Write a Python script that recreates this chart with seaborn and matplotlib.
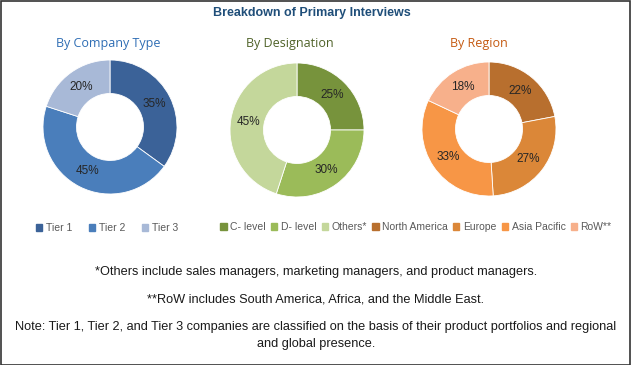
import matplotlib
matplotlib.use("Agg")
import matplotlib.pyplot as plt
from matplotlib.patches import Patch, Rectangle
import seaborn as sns

# data
company_labels = ["Tier 1", "Tier 2", "Tier 3"]
company_share = [35, 45, 20]
designation_labels = ["C- level", "D- level", "Others*"]
designation_share = [25, 30, 45]
region_labels = ["North America", "Europe", "Asia Pacific", "RoW**"]
region_share = [22, 27, 33, 18]

company_colors = ["#3B6298", "#4A7EBB", "#A8B9D7"]
designation_colors = ["#77933C", "#9BBB59", "#C4D79B"]
region_colors = ["#B86F2E", "#DB8738", "#F79646", "#F7B08B"]

sns.set_theme(style="white")
plt.rcParams["font.family"] = ["Liberation Sans", "DejaVu Sans"]

W, H = 631, 365
fig = plt.figure(figsize=(W / 100, H / 100), dpi=100)
fig.patch.set_facecolor("white")


def donut(cx, cy, r, values, colors, title, title_x, title_color):
    ax = fig.add_axes([(cx - r) / W, 1 - (cy + r) / H, 2 * r / W, 2 * r / H])
    ax.pie(values, colors=colors, startangle=90, counterclock=False,
           autopct="%d%%", pctdistance=0.74,
           wedgeprops=dict(width=0.5, edgecolor="white", linewidth=0.6),
           textprops=dict(fontsize=8.5, color="#262626"))
    ax.set_xlim(-1, 1)
    ax.set_ylim(-1, 1)
    ax.set_aspect("auto")
    fig.text(title_x / W, 1 - 44 / H, title, ha="center", va="center",
             fontsize=9, color=title_color, family=["Open Sans", "DejaVu Sans"])
    return ax


donut(110, 127, 67, company_share, company_colors, "By Company Type", 108, "#2E6DB4")
donut(297, 130, 67, designation_share, designation_colors, "By Designation", 290, "#4F6228")
donut(489, 129, 67, region_share, region_colors, "By Region", 479, "#C55A11")

fig.text(312 / W, 1 - 13 / H, "Breakdown of Primary Interviews", ha="center",
         va="center", fontsize=9, fontweight="bold", color="#1F4E79")

leg_kw = dict(loc="center", frameon=False, handlelength=0.6, handleheight=0.6,
              handletextpad=0.35, fontsize=7.5, labelcolor="#595959")
fig.legend([Patch(color=c) for c in company_colors], company_labels, ncol=3,
           columnspacing=1.6, bbox_to_anchor=(107 / W, 1 - 228 / H), **leg_kw)
fig.legend([Patch(color=c) for c in designation_colors + region_colors],
           designation_labels + region_labels, ncol=7, columnspacing=0.5,
           bbox_to_anchor=(416 / W, 1 - 227 / H), **leg_kw)

notes = [
    (272, "*Others include sales managers, marketing managers, and product managers."),
    (299, "**RoW includes South America, Africa, and the Middle East."),
    (327, "Note: Tier 1, Tier 2, and Tier 3 companies are classified on the basis of their product portfolios and regional"),
    (344, "and global presence."),
]
for y, t in notes:
    fig.text(316 / W, 1 - y / H, t, ha="center", va="center", fontsize=9.2,
             color="#1A1A1A")

fig.add_artist(Rectangle((0.5 / W, 0.5 / H), 1 - 1.5 / W, 1 - 1.5 / H,
                         transform=fig.transFigure, fill=False,
                         edgecolor="#333333", linewidth=1.2))

fig.savefig("out.png", dpi=100)
